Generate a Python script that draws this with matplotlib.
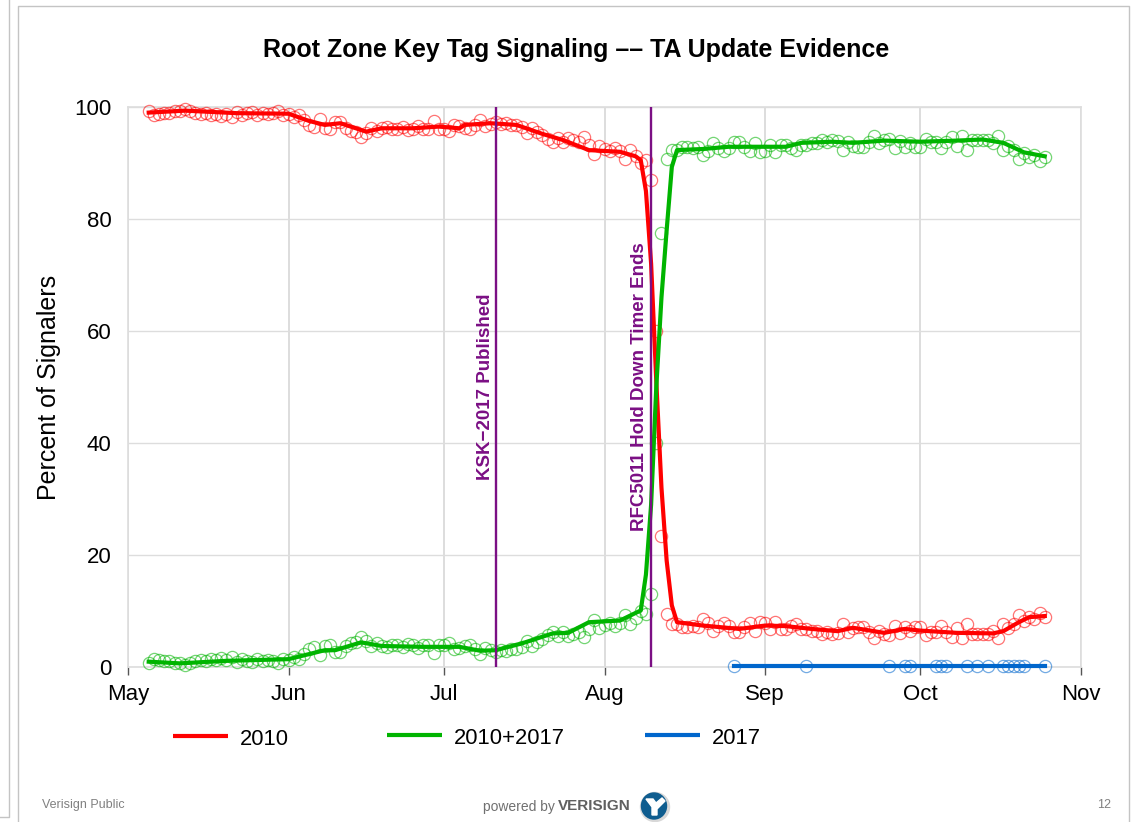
import numpy as np
import pandas as pd
import matplotlib
matplotlib.use('Agg')
import matplotlib.pyplot as plt
import matplotlib.dates as mdates
from matplotlib.patches import Ellipse, Polygon

plt.rcParams['font.family'] = ['Liberation Sans', 'DejaVu Sans']

# daily samples, starts on 5 May
first_day = '2017-05-05'
red_points = [
    99.2, 98.6, 98.8, 99.0, 98.9, 99.3, 99.2, 99.6, 99.3, 99.0,
    98.7, 99.0, 98.5, 98.8, 98.4, 98.8, 98.3, 99.1, 98.6, 98.9,
    99.1, 98.6, 99.0, 98.7, 98.9, 99.2, 98.5,
    98.8, 98.3, 98.5, 97.6, 96.7, 96.4, 97.8, 96.2, 96.0, 97.4,
    97.4, 96.2, 95.8, 95.5, 94.7, 95.4, 96.2, 95.7, 96.3, 96.5,
    96.0, 96.1, 96.5, 95.9, 96.0, 96.6, 96.0, 96.1, 97.5, 96.0,
    96.0, 95.7, 96.8, 96.6, 96.3, 96.0, 96.7, 97.6, 96.6, 96.9,
    97.3, 96.9, 97.1, 96.7, 96.8, 96.5, 95.4, 96.2, 95.5, 95.0,
    94.2, 93.8, 94.4, 93.8, 94.5, 94.1, 93.8, 94.6, 93.3, 91.6, 93.0,
    92.5, 92.2, 92.7, 92.1, 90.7, 92.4, 91.2, 90.0, 90.5, 87.0, 60.0, 23.4,
    9.5, 7.7, 7.7, 7.2, 7.1, 7.4, 7.2, 8.6, 7.9, 6.4,
    7.3, 7.9, 7.3, 6.3, 6.3, 7.2, 7.8, 6.5, 8.0, 7.9,
    6.8, 8.0, 6.8, 6.8, 7.4, 7.7, 6.8, 6.8, 6.5, 6.5,
    5.9, 6.3, 5.9, 6.0, 7.6, 6.3, 7.0, 7.1, 7.1, 6.3,
    5.2, 6.5, 5.9, 5.8, 7.3, 6.0, 7.1, 6.4, 7.1, 7.1,
    5.8, 6.3, 6.3, 7.3, 6.3, 5.4, 6.9, 5.1, 7.6, 5.9,
    5.9, 5.9, 5.9, 6.4, 5.2, 7.6, 6.9, 7.7, 9.3, 8.2,
    8.9, 8.6, 9.7, 8.9,
]
green_points = [
    0.8, 1.4, 1.2, 1.0, 1.1, 0.7, 0.8, 0.4, 0.7, 1.0,
    1.3, 1.0, 1.5, 1.2, 1.6, 1.2, 1.7, 0.9, 1.4, 1.1,
    0.9, 1.4, 1.0, 1.3, 1.1, 0.8, 1.5,
    1.2, 1.7, 1.5, 2.4, 3.3, 3.6, 2.2, 3.8, 4.0, 2.6,
    2.6, 3.8, 4.2, 4.5, 5.3, 4.6, 3.8, 4.3, 3.7, 3.5,
    4.0, 3.9, 3.5, 4.1, 4.0, 3.4, 4.0, 3.9, 2.5, 4.0,
    4.0, 4.3, 3.2, 3.4, 3.7, 4.0, 3.3, 2.4, 3.4, 3.1,
    2.7, 3.1, 2.9, 3.3, 3.2, 3.5, 4.6, 3.8, 4.5, 5.0,
    5.8, 6.2, 5.6, 6.2, 5.5, 5.9, 6.2, 5.4, 6.7, 8.4, 7.0,
    7.5, 7.8, 7.3, 7.9, 9.3, 7.6, 8.8, 10.0, 9.5, 13.0, 40.0, 77.5,
    90.7, 92.3, 92.3, 92.8, 92.9, 92.6, 92.8, 91.4, 92.1, 93.6,
    92.7, 92.1, 92.7, 93.7, 93.7, 92.8, 92.2, 93.5, 92.0, 92.1,
    93.2, 92.0, 93.2, 93.2, 92.6, 92.3, 93.2, 93.2, 93.5, 93.5,
    94.1, 93.7, 94.1, 94.0, 92.4, 93.7, 93.0, 92.9, 92.9, 93.7,
    94.8, 93.5, 94.1, 94.2, 92.7, 94.0, 92.9, 93.6, 92.9, 92.9,
    94.2, 93.7, 93.7, 92.7, 93.7, 94.6, 93.1, 94.9, 92.4, 94.1,
    94.1, 94.1, 94.1, 93.6, 94.8, 92.4, 93.1, 92.3, 90.7, 91.8,
    91.1, 91.4, 90.3, 91.1,
]

# smoothed curves
red_line_days = ['05-05', '05-12', '05-22', '06-01', '06-05', '06-08', '06-11', '06-13', '06-16',
                 '06-19', '06-25', '06-30', '07-04', '07-05', '07-10', '07-15', '07-20', '07-24',
                 '07-29', '08-04', '08-07', '08-08', '08-09', '08-10', '08-11', '08-12', '08-13',
                 '08-14', '08-15', '08-20', '08-27', '09-01', '09-05', '09-10', '09-15', '09-18',
                 '09-24', '09-28', '10-01', '10-08', '10-15', '10-17', '10-20', '10-22', '10-25']
red_line = [99.0, 99.35, 98.9, 98.8, 97.5, 96.8, 97.1, 96.5, 95.6,
            96.2, 96.2, 96.5, 96.2, 96.8, 97.1, 96.8, 95.2, 94.1,
            92.3, 92.0, 91.2, 90.5, 85.0, 72.0, 51.0, 32.0, 19.0,
            11.0, 8.0, 7.4, 6.8, 7.4, 7.3, 6.8, 6.4, 7.0,
            6.1, 6.8, 6.5, 6.1, 6.0, 6.4, 8.0, 8.9, 9.1]
green_line_days = ['05-05', '05-11', '05-20', '06-01', '06-08', '06-10', '06-15', '06-19', '06-27',
                   '07-04', '07-08', '07-11', '07-16', '07-22', '07-25', '07-29', '08-04', '08-08',
                   '08-09', '08-10', '08-11', '08-12', '08-13', '08-14', '08-15', '08-20', '08-25',
                   '09-01', '09-05', '09-08', '09-14', '09-18', '09-24', '10-01', '10-08', '10-13',
                   '10-17', '10-21', '10-25']
green_line = [0.95, 0.65, 1.1, 1.4, 3.0, 3.0, 4.4, 3.75, 3.6,
              3.6, 2.9, 3.0, 4.2, 6.0, 6.1, 8.0, 8.3, 10.1,
              16.5, 29.0, 50.0, 66.0, 78.0, 89.3, 92.3, 92.5, 92.9,
              92.9, 92.9, 93.6, 93.8, 93.6, 94.0, 93.8, 94.0, 94.2,
              93.6, 91.9, 91.2]
blue_days = ['08-26', '09-09', '09-25', '09-28', '09-29', '10-04', '10-05', '10-06', '10-10',
             '10-12', '10-14', '10-17', '10-18', '10-19', '10-20', '10-21', '10-25']
blue_vals = [0.1] * 17

event_days = ['07-11', '08-10']
event_labels = ['KSK\u22122017 Published', 'RFC5011 Hold Down Timer Ends']

yticks = [0, 20, 40, 60, 80, 100]


def to_dates(days):
    return pd.to_datetime(['2017-' + d for d in days])


W, H = 1137, 822
fig = plt.figure(figsize=(W / 100, H / 100), dpi=100)
ax = fig.add_axes([128 / W, 1 - 667 / H, (1081 - 128) / W, (667 - 107) / H])

daily = pd.date_range(first_day, periods=len(red_points))
circle = dict(ls='none', marker='o', ms=8.8, mfc='none', mew=0.9, alpha=0.55, zorder=3, clip_on=False)
ax.plot(daily, red_points, color='#ff0000', **circle)
ax.plot(daily, green_points, color='#00b400', **circle)
ax.plot(to_dates(blue_days), blue_vals, color='#0066cc', **circle)
ax.plot(to_dates(red_line_days), red_line, color='#ff0000', lw=3, zorder=4, solid_joinstyle='round')
ax.plot(to_dates(green_line_days), green_line, color='#00b400', lw=3, zorder=4, solid_joinstyle='round')
ax.plot(to_dates(blue_days), blue_vals, color='#0066cc', lw=3, zorder=4, clip_on=False)

for d in to_dates(event_days):
    ax.axvline(d, color='#7b0f84', lw=1.7, zorder=5)

ax.set_xlim(pd.Timestamp('2017-05-01'), pd.Timestamp('2017-11-01'))
ax.set_ylim(0, 100)
ax.set_yticks(yticks)
ax.xaxis.set_major_locator(mdates.MonthLocator())
ax.xaxis.set_major_formatter(mdates.DateFormatter('%b'))
ax.grid(True, axis='x', color='#dddddd', lw=1.4)
ax.grid(True, axis='y', color='#dddddd', lw=1.0)
ax.set_axisbelow(True)
for s in ax.spines.values():
    s.set_color('#dddddd')
    s.set_linewidth(1.2)
ax.tick_params(axis='y', length=0, pad=12, labelsize=16)
ax.tick_params(axis='x', length=6, width=1, color='#555555', pad=6, labelsize=16)

# everything outside the plot, in picture pixels
ov = fig.add_axes([0, 0, 1, 1], zorder=10)
ov.set_xlim(0, W)
ov.set_ylim(H, 0)
ov.axis('off')

ov.text(576, 50, 'Root Zone Key Tag Signaling \u2013\u2013 TA Update Evidence', fontsize=18,
        fontweight='bold', ha='center', va='center')
ov.text(49, 387, 'Percent of Signalers', rotation=90, fontsize=18, ha='center', va='center')
ov.text(485.5, 387, event_labels[0], rotation=90, color='#7b0f84', fontsize=13.5, fontweight='bold',
        ha='center', va='center')
ov.text(640, 387, event_labels[1], rotation=90, color='#7b0f84', fontsize=13.5, fontweight='bold',
        ha='center', va='center')

# legend
legend_names = ['2010', '2010+2017', '2017']
legend_colors = ['#ff0000', '#00b400', '#0066cc']
legend_x = [173, 387, 645]
legend_y = [736, 735, 735]
for name, c, x, y in zip(legend_names, legend_colors, legend_x, legend_y):
    ov.plot([x, x + 55], [y, y], color=c, lw=3, solid_capstyle='butt')
    ov.text(x + 67, y + 3, name, fontsize=15.8, ha='left', va='center')

# slide frame
frame = '#c4c4c4'
ov.plot([18, 18, 1129, 1129], [H, 6, 6, H], color=frame, lw=1)
ov.plot([9, 9, 0], [0, 817, 817], color=frame, lw=1)

# footer
ov.text(42, 805, 'Verisign Public', fontsize=9, color='#808080', ha='left', va='center')
ov.text(1111, 805, '12', fontsize=9, color='#808080', ha='right', va='center')
ov.text(483, 807, 'powered by', fontsize=10, color='#707070', ha='left', va='center')
ov.text(558, 806, 'VERISIGN', fontsize=11, color='#606060', fontweight='bold', ha='left', va='center')
ov.add_patch(Ellipse((655, 807), 29, 29, color='#d8d8d8', zorder=2))
ov.add_patch(Ellipse((654, 806), 25, 26, color='#0f5d8f', zorder=3))
ov.add_patch(Polygon([(646, 799), (653, 799), (656, 803), (662, 798), (665, 801), (657, 809),
                      (657, 815), (652, 815), (652, 807)], color='white', zorder=4))

fig.savefig('out.png', dpi=100, facecolor='white')
